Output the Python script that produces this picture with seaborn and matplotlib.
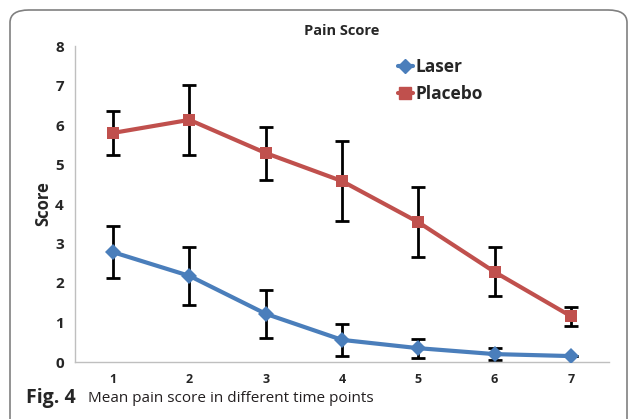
import matplotlib
matplotlib.use("Agg")
import matplotlib.pyplot as plt
from matplotlib.patches import FancyBboxPatch
from matplotlib.lines import Line2D
import seaborn as sns
import pandas as pd

# values
time_points = [1, 2, 3, 4, 5, 6, 7]
laser_mean = [2.78, 2.18, 1.22, 0.56, 0.35, 0.20, 0.15]
laser_err = [0.66, 0.73, 0.60, 0.41, 0.24, 0.15, 0.0]
placebo_mean = [5.80, 6.13, 5.29, 4.58, 3.54, 2.28, 1.16]
placebo_err = [0.55, 0.88, 0.67, 1.02, 0.89, 0.62, 0.24]
y_ticks = [0, 1, 2, 3, 4, 5, 6, 7, 8]

blue = "#4A7EBB"
red = "#C0504D"

sns.set_style("white")
plt.rcParams["font.family"] = ["Open Sans", "DejaVu Sans"]

df = pd.DataFrame({
    "time": time_points * 2,
    "score": laser_mean + placebo_mean,
    "group": ["Laser"] * 7 + ["Placebo"] * 7,
})

fig = plt.figure(figsize=(6.3, 4.19), dpi=100)
ax = fig.add_axes([75 / 630, 1 - 362 / 419, (609 - 75) / 630, (362 - 46) / 419])

# error bars first so the lines sit on top
ax.errorbar(time_points, placebo_mean, yerr=placebo_err, fmt="none",
            ecolor="black", elinewidth=2, capsize=5, capthick=2, zorder=1)
ax.errorbar(time_points, laser_mean, yerr=laser_err, fmt="none",
            ecolor="black", elinewidth=2, capsize=5, capthick=2, zorder=1)

sns.lineplot(data=df, x="time", y="score", hue="group", style="group",
             palette={"Laser": blue, "Placebo": red},
             markers={"Laser": "D", "Placebo": "s"}, dashes=False,
             markersize=8, markeredgewidth=0, linewidth=3, ax=ax,
             legend=False, zorder=3)

ax.set_xlim(0.5, 7.5)
ax.set_ylim(0, 8)
ax.set_xticks(time_points)
ax.set_yticks(y_ticks)
ax.set_xticklabels([str(t) for t in time_points], fontweight="bold", fontsize=9)
ax.set_yticklabels([str(t) for t in y_ticks], fontweight="bold", fontsize=11)
ax.tick_params(axis="both", length=0, pad=8)
ax.set_xlabel("")
ax.set_ylabel("Score", fontweight="bold", fontsize=12, labelpad=2)
ax.set_title("Pain Score", fontweight="bold", fontsize=10.5, pad=8)

for side in ["top", "right"]:
    ax.spines[side].set_visible(False)
for side in ["left", "bottom"]:
    ax.spines[side].set_color("#BFBFBF")
    ax.spines[side].set_linewidth(1)

handles = [
    Line2D([0], [0], color=blue, lw=3, marker="D", markersize=7),
    Line2D([0], [0], color=red, lw=3, marker="s", markersize=8),
]
ax.legend(handles, ["Laser", "Placebo"], loc="upper left",
          bbox_to_anchor=(0.575, 1.01), frameon=False, handlelength=0.9,
          handletextpad=0.1, labelspacing=0.5,
          prop={"weight": "bold", "size": 12.5})

# rounded frame around the figure panel
frame = FancyBboxPatch((10 / 630, -0.05), 617 / 630, 1 - 10 / 419 + 0.05,
                       boxstyle="round,pad=0,rounding_size=0.03",
                       transform=fig.transFigure, fill=False,
                       edgecolor="#808080", linewidth=1.2, clip_on=False)
fig.patches.append(frame)

fig.text(26 / 630, 1 - 398 / 419, "Fig. 4", fontweight="bold", fontsize=14,
         va="center", ha="left")
fig.text(88 / 630, 1 - 398 / 419, "Mean pain score in different time points",
         fontsize=11, va="center", ha="left", color="#231F20")

fig.savefig("out.png", dpi=100)
